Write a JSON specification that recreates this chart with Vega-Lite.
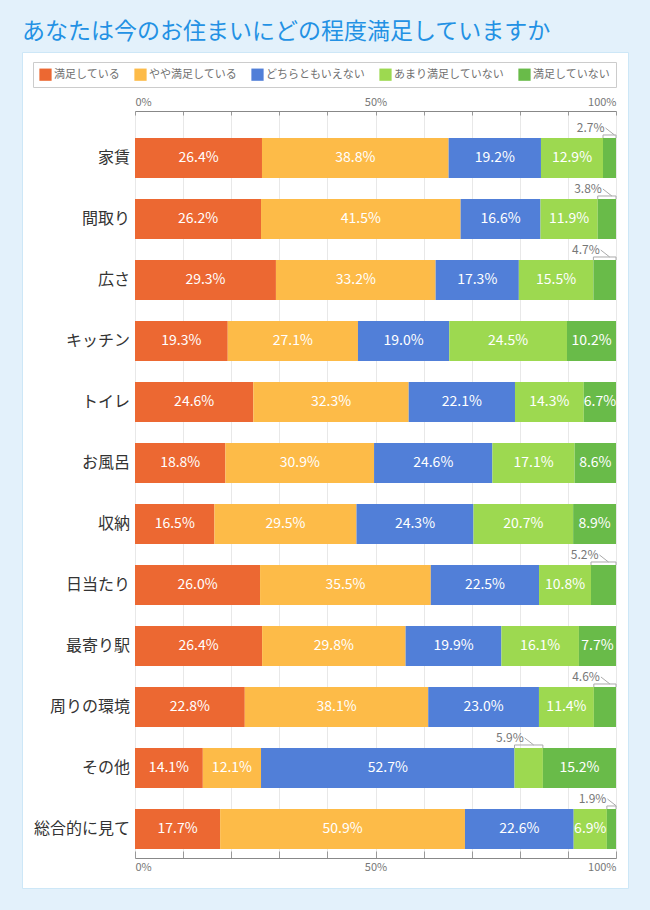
{
  "$schema": "https://vega.github.io/schema/vega-lite/v6.json",
  "width": 606,
  "height": 836,
  "autosize": {"type": "none"},
  "padding": {"left": 22, "top": 52, "right": 22, "bottom": 22},
  "background": "#e3f1fb",
  "title": {"text": "あなたは今のお住まいにどの程度満足していますか", "anchor": "start", "frame": "group", "offset": 8, "dx": 0, "fontSize": 23, "font": "Noto Sans CJK JP", "fontWeight": "normal", "color": "#2391e4"},
  "config": {"view": {"fill": "white", "stroke": "#cde7f7"}, "font": "Noto Sans CJK JP"},
  "data": {"values": [
    {"cat": "家賃", "resp": "満足している", "k": 1, "value": 26.4},
    {"cat": "家賃", "resp": "やや満足している", "k": 2, "value": 38.8},
    {"cat": "家賃", "resp": "どちらともいえない", "k": 3, "value": 19.2},
    {"cat": "家賃", "resp": "あまり満足していない", "k": 4, "value": 12.9},
    {"cat": "家賃", "resp": "満足していない", "k": 5, "value": 2.7},
    {"cat": "間取り", "resp": "満足している", "k": 1, "value": 26.2},
    {"cat": "間取り", "resp": "やや満足している", "k": 2, "value": 41.5},
    {"cat": "間取り", "resp": "どちらともいえない", "k": 3, "value": 16.6},
    {"cat": "間取り", "resp": "あまり満足していない", "k": 4, "value": 11.9},
    {"cat": "間取り", "resp": "満足していない", "k": 5, "value": 3.8},
    {"cat": "広さ", "resp": "満足している", "k": 1, "value": 29.3},
    {"cat": "広さ", "resp": "やや満足している", "k": 2, "value": 33.2},
    {"cat": "広さ", "resp": "どちらともいえない", "k": 3, "value": 17.3},
    {"cat": "広さ", "resp": "あまり満足していない", "k": 4, "value": 15.5},
    {"cat": "広さ", "resp": "満足していない", "k": 5, "value": 4.7},
    {"cat": "キッチン", "resp": "満足している", "k": 1, "value": 19.3},
    {"cat": "キッチン", "resp": "やや満足している", "k": 2, "value": 27.1},
    {"cat": "キッチン", "resp": "どちらともいえない", "k": 3, "value": 19.0},
    {"cat": "キッチン", "resp": "あまり満足していない", "k": 4, "value": 24.5},
    {"cat": "キッチン", "resp": "満足していない", "k": 5, "value": 10.2},
    {"cat": "トイレ", "resp": "満足している", "k": 1, "value": 24.6},
    {"cat": "トイレ", "resp": "やや満足している", "k": 2, "value": 32.3},
    {"cat": "トイレ", "resp": "どちらともいえない", "k": 3, "value": 22.1},
    {"cat": "トイレ", "resp": "あまり満足していない", "k": 4, "value": 14.3},
    {"cat": "トイレ", "resp": "満足していない", "k": 5, "value": 6.7},
    {"cat": "お風呂", "resp": "満足している", "k": 1, "value": 18.8},
    {"cat": "お風呂", "resp": "やや満足している", "k": 2, "value": 30.9},
    {"cat": "お風呂", "resp": "どちらともいえない", "k": 3, "value": 24.6},
    {"cat": "お風呂", "resp": "あまり満足していない", "k": 4, "value": 17.1},
    {"cat": "お風呂", "resp": "満足していない", "k": 5, "value": 8.6},
    {"cat": "収納", "resp": "満足している", "k": 1, "value": 16.5},
    {"cat": "収納", "resp": "やや満足している", "k": 2, "value": 29.5},
    {"cat": "収納", "resp": "どちらともいえない", "k": 3, "value": 24.3},
    {"cat": "収納", "resp": "あまり満足していない", "k": 4, "value": 20.7},
    {"cat": "収納", "resp": "満足していない", "k": 5, "value": 8.9},
    {"cat": "日当たり", "resp": "満足している", "k": 1, "value": 26.0},
    {"cat": "日当たり", "resp": "やや満足している", "k": 2, "value": 35.5},
    {"cat": "日当たり", "resp": "どちらともいえない", "k": 3, "value": 22.5},
    {"cat": "日当たり", "resp": "あまり満足していない", "k": 4, "value": 10.8},
    {"cat": "日当たり", "resp": "満足していない", "k": 5, "value": 5.2},
    {"cat": "最寄り駅", "resp": "満足している", "k": 1, "value": 26.4},
    {"cat": "最寄り駅", "resp": "やや満足している", "k": 2, "value": 29.8},
    {"cat": "最寄り駅", "resp": "どちらともいえない", "k": 3, "value": 19.9},
    {"cat": "最寄り駅", "resp": "あまり満足していない", "k": 4, "value": 16.1},
    {"cat": "最寄り駅", "resp": "満足していない", "k": 5, "value": 7.7},
    {"cat": "周りの環境", "resp": "満足している", "k": 1, "value": 22.8},
    {"cat": "周りの環境", "resp": "やや満足している", "k": 2, "value": 38.1},
    {"cat": "周りの環境", "resp": "どちらともいえない", "k": 3, "value": 23.0},
    {"cat": "周りの環境", "resp": "あまり満足していない", "k": 4, "value": 11.4},
    {"cat": "周りの環境", "resp": "満足していない", "k": 5, "value": 4.6},
    {"cat": "その他", "resp": "満足している", "k": 1, "value": 14.1},
    {"cat": "その他", "resp": "やや満足している", "k": 2, "value": 12.1},
    {"cat": "その他", "resp": "どちらともいえない", "k": 3, "value": 52.7},
    {"cat": "その他", "resp": "あまり満足していない", "k": 4, "value": 5.9},
    {"cat": "その他", "resp": "満足していない", "k": 5, "value": 15.2},
    {"cat": "総合的に見て", "resp": "満足している", "k": 1, "value": 17.7},
    {"cat": "総合的に見て", "resp": "やや満足している", "k": 2, "value": 50.9},
    {"cat": "総合的に見て", "resp": "どちらともいえない", "k": 3, "value": 22.6},
    {"cat": "総合的に見て", "resp": "あまり満足していない", "k": 4, "value": 6.9},
    {"cat": "総合的に見て", "resp": "満足していない", "k": 5, "value": 1.9}
  ]},
  "transform": [{"calculate": "format(datum.value, '.1f') + '%'", "as": "label"}],
  "encoding": {
    "y": {"field": "cat", "type": "nominal", "sort": null,
      "scale": {"range": [59, 806], "paddingInner": 0.344, "paddingOuter": 0.295, "align": 0.75},
      "axis": null}
  },
  "layer": [
    {
      "mark": {"type": "bar"},
      "encoding": {
        "x": {"field": "value", "type": "quantitative", "stack": "normalize",
          "scale": {"domain": [0, 1], "range": [113, 594], "nice": false},
          "axis": {"orient": "top", "title": null, "values": [0, 0.1, 0.2, 0.3, 0.4, 0.5, 0.6, 0.7, 0.8, 0.9, 1],
            "labelExpr": "datum.value == 0 ? '0%' : (datum.value == 0.5 ? '50%' : (datum.value == 1 ? '100%' : ''))",
            "offset": -59, "tickSize": -4, "labelPadding": 8, "domainColor": "#888888", "tickColor": "#999999",
            "grid": true, "gridColor": "#e8e8e8", "labelColor": "#777777", "labelFontSize": 11, "labelFlush": true}},
        "color": {"field": "resp", "type": "nominal",
          "scale": {"domain": ["満足している", "やや満足している", "どちらともいえない", "あまり満足していない", "満足していない"],
            "range": ["#ec6832", "#fdbb48", "#517fd8", "#9dd950", "#69bb49"]},
          "legend": {"orient": "none", "legendX": 11, "legendY": 10, "direction": "horizontal", "columns": 5, "title": null,
            "symbolType": "square", "symbolSize": 150, "symbolStrokeWidth": 0, "symbolOpacity": 1,
            "labelFontSize": 11, "labelColor": "#707070", "labelFont": "Noto Sans CJK JP", "labelOffset": 2,
            "strokeColor": "#cccccc", "padding": 6, "columnPadding": 14}},
        "order": {"field": "k", "type": "quantitative"}
      }
    },
    {
      "transform": [{"filter": "datum.k == 1"}],
      "mark": {"type": "text", "align": "right", "baseline": "middle", "dx": -5, "fontSize": 16, "color": "#333333", "font": "Noto Sans CJK JP"},
      "encoding": {
        "x": {"datum": 0, "type": "quantitative", "axis": null},
        "text": {"field": "cat", "type": "nominal"}
      }
    },
    {
      "mark": {"type": "text", "color": "white", "fontSize": 14, "font": "Noto Sans CJK JP"},
      "encoding": {
        "x": {"field": "value", "type": "quantitative", "stack": "normalize", "bandPosition": 0.5, "axis": null},
        "detail": {"field": "resp"},
        "order": {"field": "k", "type": "quantitative"},
        "text": {"condition": {"test": "datum.value >= 6", "field": "label", "type": "nominal"}, "value": ""}
      }
    },
    {
      "mark": {"type": "text", "color": "#777777", "fontSize": 12, "align": "right", "dx": -5, "dy": -30, "font": "Noto Sans CJK JP"},
      "encoding": {
        "x": {"field": "value", "type": "quantitative", "stack": "normalize", "bandPosition": 0.5, "axis": null},
        "detail": {"field": "resp"},
        "order": {"field": "k", "type": "quantitative"},
        "text": {"condition": {"test": "datum.value < 6", "field": "label", "type": "nominal"}, "value": ""}
      }
    },
    {
      "mark": {"type": "point", "shape": "M-0.6,-0.47L0.6,0.47", "size": 225, "filled": false, "stroke": "#aaaaaa", "strokeWidth": 1, "xOffset": 0.5, "yOffset": -26.5},
      "encoding": {
        "x": {"field": "value", "type": "quantitative", "stack": "normalize", "bandPosition": 0.5, "axis": null},
        "detail": {"field": "resp"},
        "order": {"field": "k", "type": "quantitative"},
        "opacity": {"condition": {"test": "datum.value < 6", "value": 1}, "value": 0}
      }
    },
    {
      "transform": [
        {"stack": "value", "groupby": ["cat"], "sort": [{"field": "k", "order": "ascending"}], "offset": "normalize", "as": ["x0", "x1"]},
        {"filter": "datum.value < 6"}
      ],
      "layer": [
        {
          "mark": {"type": "rule", "color": "#aaaaaa", "strokeWidth": 1, "yOffset": -3},
          "encoding": {
            "y": {"field": "cat", "type": "nominal", "sort": null, "bandPosition": 0, "axis": null},
            "x": {"field": "x0", "type": "quantitative", "axis": null},
            "x2": {"field": "x1"}
          }
        },
        {
          "mark": {"type": "point", "shape": "M0,0L0,1", "size": 36, "filled": false, "stroke": "#aaaaaa", "strokeWidth": 1, "yOffset": -3, "opacity": 1},
          "encoding": {
            "y": {"field": "cat", "type": "nominal", "sort": null, "bandPosition": 0, "axis": null},
            "x": {"field": "x0", "type": "quantitative", "axis": null}
          }
        },
        {
          "mark": {"type": "point", "shape": "M0,0L0,1", "size": 36, "filled": false, "stroke": "#aaaaaa", "strokeWidth": 1, "yOffset": -3, "opacity": 1},
          "encoding": {
            "y": {"field": "cat", "type": "nominal", "sort": null, "bandPosition": 0, "axis": null},
            "x": {"field": "x1", "type": "quantitative", "axis": null}
          }
        }
      ]
    },
    {
      "mark": {"type": "tick", "opacity": 0},
      "encoding": {
        "x": {"field": "value", "type": "quantitative",
          "axis": {"orient": "bottom", "title": null, "values": [0, 0.1, 0.2, 0.3, 0.4, 0.5, 0.6, 0.7, 0.8, 0.9, 1],
            "labelExpr": "datum.value == 0 ? '0%' : (datum.value == 0.5 ? '50%' : (datum.value == 1 ? '100%' : ''))",
            "offset": -30, "tickSize": -7, "labelPadding": 10, "domainColor": "#888888", "tickColor": "#999999",
            "grid": false, "labelColor": "#777777", "labelFontSize": 11, "labelFlush": true}}
      }
    }
  ],
  "resolve": {"axis": {"x": "independent"}}
}
